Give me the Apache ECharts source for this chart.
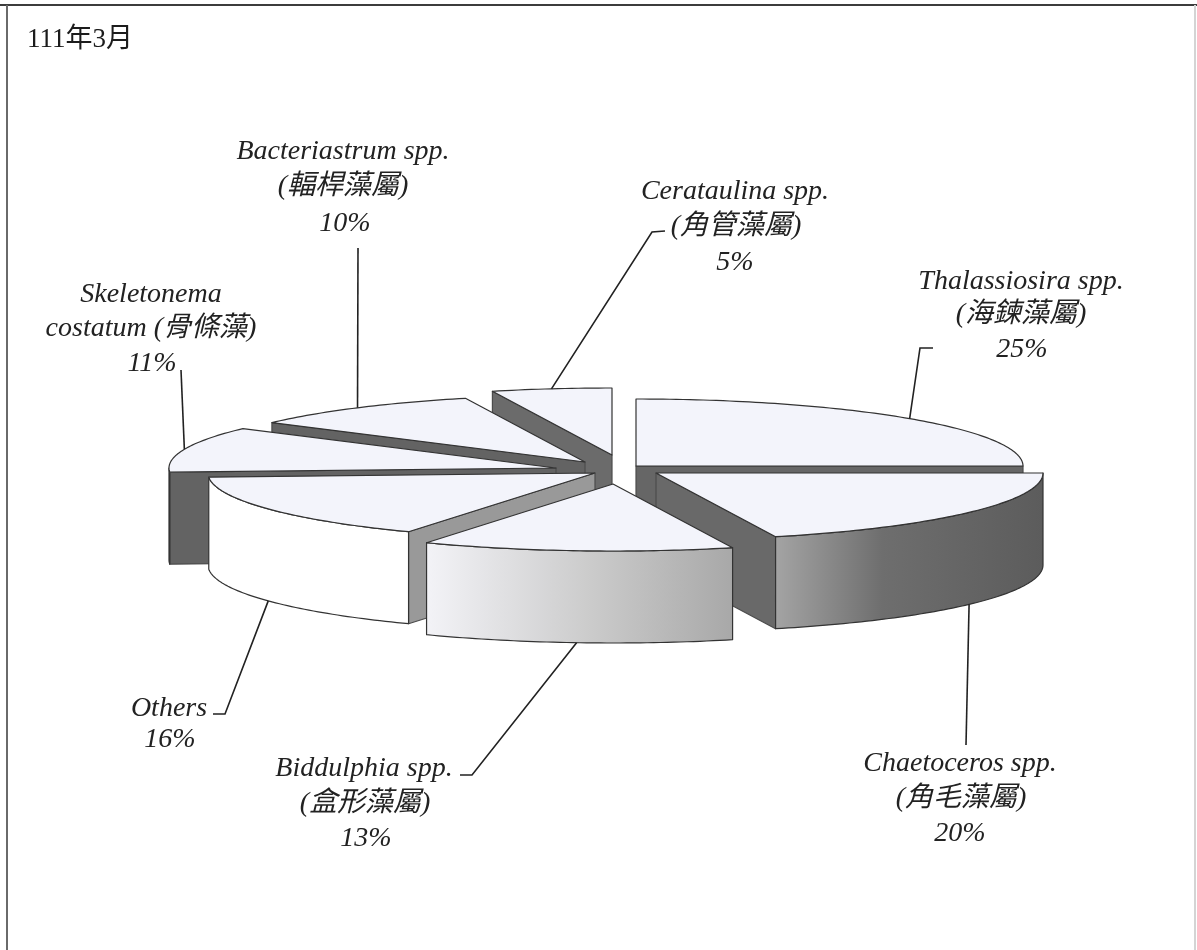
<!DOCTYPE html>
<html><head><meta charset="utf-8">
<style>html,body{margin:0;padding:0;background:#fff}#c{width:1197px;height:950px}</style>
<script src="https://cdn.jsdelivr.net/npm/echarts@6/dist/echarts.min.js"></script>
</head><body><div id="c"></div>
<script>
// ---- data ----
const chartTitle = '111年3月';
const categories = ['Thalassiosira spp.','Chaetoceros spp.','Biddulphia spp.','Others','Skeletonema costatum','Bacteriastrum spp.','Cerataulina spp.'];
const values = [25,20,13,16,11,10,5];
const labelLines = [
  ['Thalassiosira spp.','(海鍊藻屬)'],
  ['Chaetoceros spp.','(角毛藻屬)'],
  ['Biddulphia spp.','(盒形藻屬)'],
  ['Others'],
  ['Skeletonema','costatum (骨條藻)'],
  ['Bacteriastrum spp.','(輻桿藻屬)'],
  ['Cerataulina spp.','(角管藻屬)']
];

// ---- pie layout and styling (the wedge angles all come from values) ----
const pie = {cx:610, cy:468, rx:387, ry:67, depth:92};
const explode = [[26,-2],[46,5],[3,16],[-15,5],[-54,0],[-25,-6],[2,-13]];
const paintRank = [3,5,6,4,2,1,0];
const topFill = '#f3f4fb', edge = '#333333', softEdge = '#4c4c4c';
const cutFill = ['#666666','#696969','#8a8a8a','#999999','#636363','#636363','#6b6b6b'];
const rimFill = [
  '#666666',
  [[0,'#a4a4a4'],[0.4,'#6e6e6e'],[1,'#5c5c5c']],
  [[0,'#f3f3f7'],[0.55,'#cacaca'],[1,'#a8a8a8']],
  '#ffffff','#636363','#636363','#6b6b6b'
];
// leader bend points and text centres per line
const leaderBends = [
  [[920,348],[933,348]],
  [[966,745]],
  [[472,775],[460,775]],
  [[225,714],[213,714]],
  [[181,370]],
  [[358,248]],
  [[652,232],[665,231]]
];
const textCentres = [
  [[1021,282],[1021,315],[1022,350]],
  [[960,764],[961,799],[960,834]],
  [[364,769],[365,804],[366,839]],
  [[169,709],[170,740]],
  [[151,295],[151,329],[152,364]],
  [[343,152],[343,187],[345,224]],
  [[735,192],[736,227],[735,263]]
];
const labelFont = '"Liberation Serif","Noto Sans CJK TC",serif';
const rad = d => d*Math.PI/180;

const startAngles = values.map((_,i)=>values.slice(0,i).reduce((a,b)=>a+b,0)*3.6);

function wedgeItem(params, api){
  const i = params.dataIndex;
  const sweep = api.value(0)*3.6, a0 = startAngles[i], a1 = a0+sweep;
  const ax = pie.cx+explode[i][0], ay = pie.cy+explode[i][1];
  const rim = t => [ax+pie.rx*Math.sin(rad(t)), ay-pie.ry*Math.cos(rad(t))];
  const down = p => [p[0], p[1]+pie.depth];
  const arc = (s,e) => {const pts=[];const n=Math.max(2,Math.ceil((e-s)));for(let k=0;k<=n;k++)pts.push(rim(s+(e-s)*k/n));return pts;};
  const z = paintRank[i]*10;
  const children = [];
  const toFill = (f) => Array.isArray(f) ? new echarts.graphic.LinearGradient(0,0,1,0,f.map(s=>({offset:s[0],color:s[1]}))) : f;
  const poly = (points,fill,dz,stroke) => children.push({type:'polygon',z2:z+dz,shape:{points},
    style:{fill:toFill(fill),stroke,lineWidth:1.2,lineJoin:'round'}});

  // cut faces turned towards the viewer
  if (Math.sin(rad(a1))>0.01) { const p=rim(a1); poly([[ax,ay],p,down(p),[ax,ay+pie.depth]],cutFill[i],0,softEdge); }
  if (Math.sin(rad(a0))<-0.01) { const p=rim(a0); poly([[ax,ay],p,down(p),[ax,ay+pie.depth]],cutFill[i],0,softEdge); }
  // rim on the front half of the ellipse
  const rs=Math.max(a0,90), re=Math.min(a1,270);
  if (re>rs) { const top=arc(rs,re); poly(top.concat(top.slice().reverse().map(down)),rimFill[i],1,edge); }
  // top face
  poly([[ax,ay]].concat(arc(a0,a1)),topFill,2,edge);

  // leader from the rim at the wedge's middle angle
  const mid=(a0+a1)/2; let s=rim(mid);
  if (Math.cos(rad(mid))<0) s=down(s);
  children.push({type:'polyline',z2:100,shape:{points:[s].concat(leaderBends[i])},style:{stroke:'#222',lineWidth:1.6,fill:null}});

  // text
  const lines = labelLines[i].concat([api.value(0)+'%']);
  lines.forEach((t,k)=>{
    children.push({type:'text',z2:110,style:{text:t,x:textCentres[i][k][0],y:textCentres[i][k][1],align:'center',verticalAlign:'middle',
      font:'italic 28px '+labelFont,fill:'#222'}});
  });
  return {type:'group',children};
}

const chart = echarts.init(document.getElementById('c'),null,{renderer:'canvas'});
chart.setOption({
  animation:false,
  backgroundColor:'#ffffff',
  title:{text:chartTitle,left:22,top:21,textStyle:{fontFamily:labelFont,fontSize:27,fontWeight:'normal',color:'#1c1c1c'}},
  graphic:[
    {type:'line',shape:{x1:0,y1:5,x2:1197,y2:5},style:{stroke:'#3c3c3c',lineWidth:2}},
    {type:'line',shape:{x1:7,y1:5,x2:7,y2:950},style:{stroke:'#6a6a6a',lineWidth:2}},
    {type:'line',shape:{x1:1195,y1:5,x2:1195,y2:950},style:{stroke:'#d4d4d4',lineWidth:2}}
  ],
  series:[{
    type:'custom',coordinateSystem:'none',silent:true,
    renderItem:wedgeItem,
    data:categories.map((name,i)=>({name,value:[values[i]]}))
  }]
});
</script></body></html>
